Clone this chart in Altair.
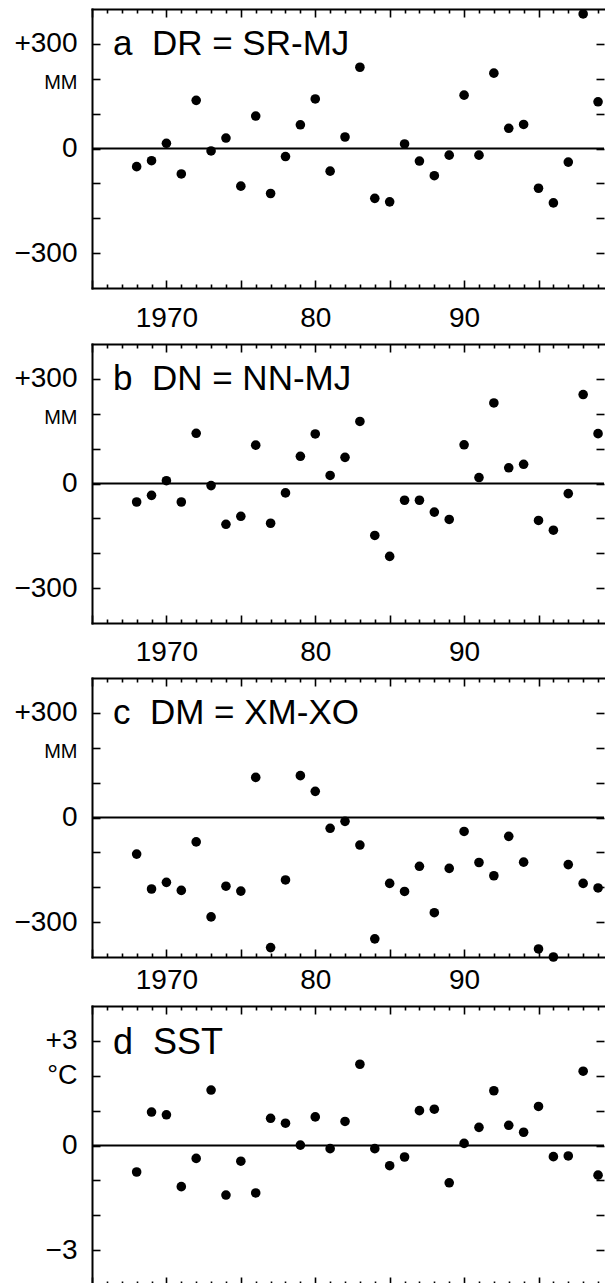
import altair as alt
import pandas as pd

# ---------------- data ----------------
years = list(range(1968, 2000))

dr = [-52, -35, 15, -73, 138, -7, 30, -108, 93, -129, -23, 68, 142, -65, 33, 233,
      -143, -153, 13, -36, -78, -19, 153, -19, 216, 58, 69, -114, -156, -39, 386, 134]
dn = [-53, -34, 8, -53, 144, -6, -117, -94, 110, -114, -27, 78, 142, 23, 75, 178,
      -149, -209, -48, -48, -82, -103, 111, 17, 231, 45, 55, -106, -134, -29, 255, 143]
dm = [-105, -205, -186, -209, -70, -285, -197, -211, 115, -373, -179, 120, 75, -31, -11, -79,
      -348, -189, -212, -140, -273, -146, -40, -129, -167, -54, -128, -377, -400, -135, -189, -202]
sst = [-0.76, 0.96, 0.88, -1.18, -0.37, 1.59, -1.42, -0.45, -1.36, 0.78, 0.64, 0.01, 0.82, -0.09,
       0.69, 2.33, -0.09, -0.58, -0.33, 1.00, 1.04, -1.07, 0.06, 0.52, 1.57, 0.58, 0.38, 1.12,
       -0.32, -0.30, 2.13, -0.85]

titles = ["a\u00a0\u00a0DR = SR-MJ", "b\u00a0\u00a0DN = NN-MJ",
          "c\u00a0\u00a0DM = XM-XO", "d\u00a0\u00a0SST"]

# the reference is cropped just past 1999 on the right
x_domain = [1965, 1999.4]
x_ticks = list(range(1965, 2000))
x_label_values = [1970, 1980, 1990]
x_label_text = ["1970", "80", "90"]

mm_domain = [-400, 400]
mm_ticks = [-300, -200, -100, 0, 100, 200, 300]
mm_label_values = [300, 200, 0, -300]
mm_label_text = ["+300", "MM", "0", "\u2212300"]

c_domain = [-4, 4]
c_ticks = [-3, -2, -1, 0, 1, 2, 3]
c_label_values = [3, 2, 0, -3]
c_label_text = ["+3", "°C", "0", "\u22123"]

FONT = "Liberation Sans"


def label_expr(vals, texts):
    expr = "''"
    for v, t in reversed(list(zip(vals, texts))):
        expr = f"datum.value === {v} ? '{t}' : ({expr})"
    return expr


def panel(values, title, domain, ticks, lvals, ltexts, unit_size, unit_shift,
          x_pad, title_size, title_y, x_labels=True):
    df = pd.DataFrame({"year": years, "value": values})
    xs = alt.Scale(domain=x_domain, nice=False, zero=False)
    ys = alt.Scale(domain=domain, nice=False, zero=False)
    x_tick = alt.ExprRef("datum.value % 5 === 0 ? -8 : -4")
    y_tick = alt.ExprRef("-8")
    common = dict(grid=False, title=None, tickColor="black",
                  tickWidth=1.6, labelColor="black", labelFont=FONT,
                  labelFlush=False, labelOverlap=False, minExtent=0,
                  domainColor="black", domainWidth=2, domainCap="square")
    x_bottom = alt.Axis(orient="bottom", values=x_ticks, tickSize=x_tick,
                        labels=x_labels, domain=True,
                        labelExpr=label_expr(x_label_values, x_label_text),
                        labelFontSize=28, labelPadding=x_pad, **common)
    x_top = alt.Axis(orient="top", values=x_ticks, tickSize=x_tick,
                     labels=False, domain=True, **common)
    y_left = alt.Axis(orient="left", values=ticks, tickSize=y_tick, domain=True,
                      labelExpr=label_expr(lvals, ltexts),
                      labelFontSize={"condition": {"test": f"datum.value === {lvals[1]}",
                                                   "value": unit_size}, "value": 28},
                      labelOffset={"condition": {"test": f"datum.value === {lvals[1]}",
                                                 "value": unit_shift}, "value": 0},
                      labelPadding=23, **common)
    y_right = alt.Axis(orient="right", values=ticks, tickSize=y_tick,
                       labels=False, domain=False, **common)

    zero = alt.Chart(pd.DataFrame({"zero": [0]})).mark_rule(
        color="black", strokeWidth=1.8).encode(
        y=alt.Y("zero:Q", scale=ys, axis=None))
    pts = alt.Chart(df).mark_circle(size=92, color="black", opacity=1).encode(
        x=alt.X("year:Q", scale=xs, axis=x_bottom),
        y=alt.Y("value:Q", scale=ys, axis=y_left))
    ghost = alt.Chart(df).mark_circle(opacity=0).encode(
        x=alt.X("year:Q", scale=xs, axis=x_top),
        y=alt.Y("value:Q", scale=ys, axis=y_right))
    label = alt.Chart(pd.DataFrame({"label": [title]})).mark_text(
        align="left", baseline="middle", font=FONT, fontSize=title_size,
        color="black").encode(
        x=alt.value(21), y=alt.value(title_y), text="label:N")

    return alt.layer(zero, pts, ghost, label).resolve_axis(
        x="independent", y="independent").properties(width=512, height=279)


pa = panel(dr, titles[0], mm_domain, mm_ticks, mm_label_values, mm_label_text,
           20, 4, 24, 35, 35)
pb = panel(dn, titles[1], mm_domain, mm_ticks, mm_label_values, mm_label_text,
           20, 4, 23, 35, 35)
pc = panel(dm, titles[2], mm_domain, mm_ticks, mm_label_values, mm_label_text,
           20, 4, 17, 35, 35)
pd_ = panel(sst, titles[3], c_domain, c_ticks, c_label_values, c_label_text,
            27, 0, 19, 36, 37, x_labels=False)

chart = alt.vconcat(pa, pb, pc, pd_, spacing=7).properties(
    padding={"left": 5, "top": 0, "right": 0, "bottom": 0}
).configure_view(stroke=None)

chart.save("out.html", embed_options={"renderer": "svg", "actions": False})
